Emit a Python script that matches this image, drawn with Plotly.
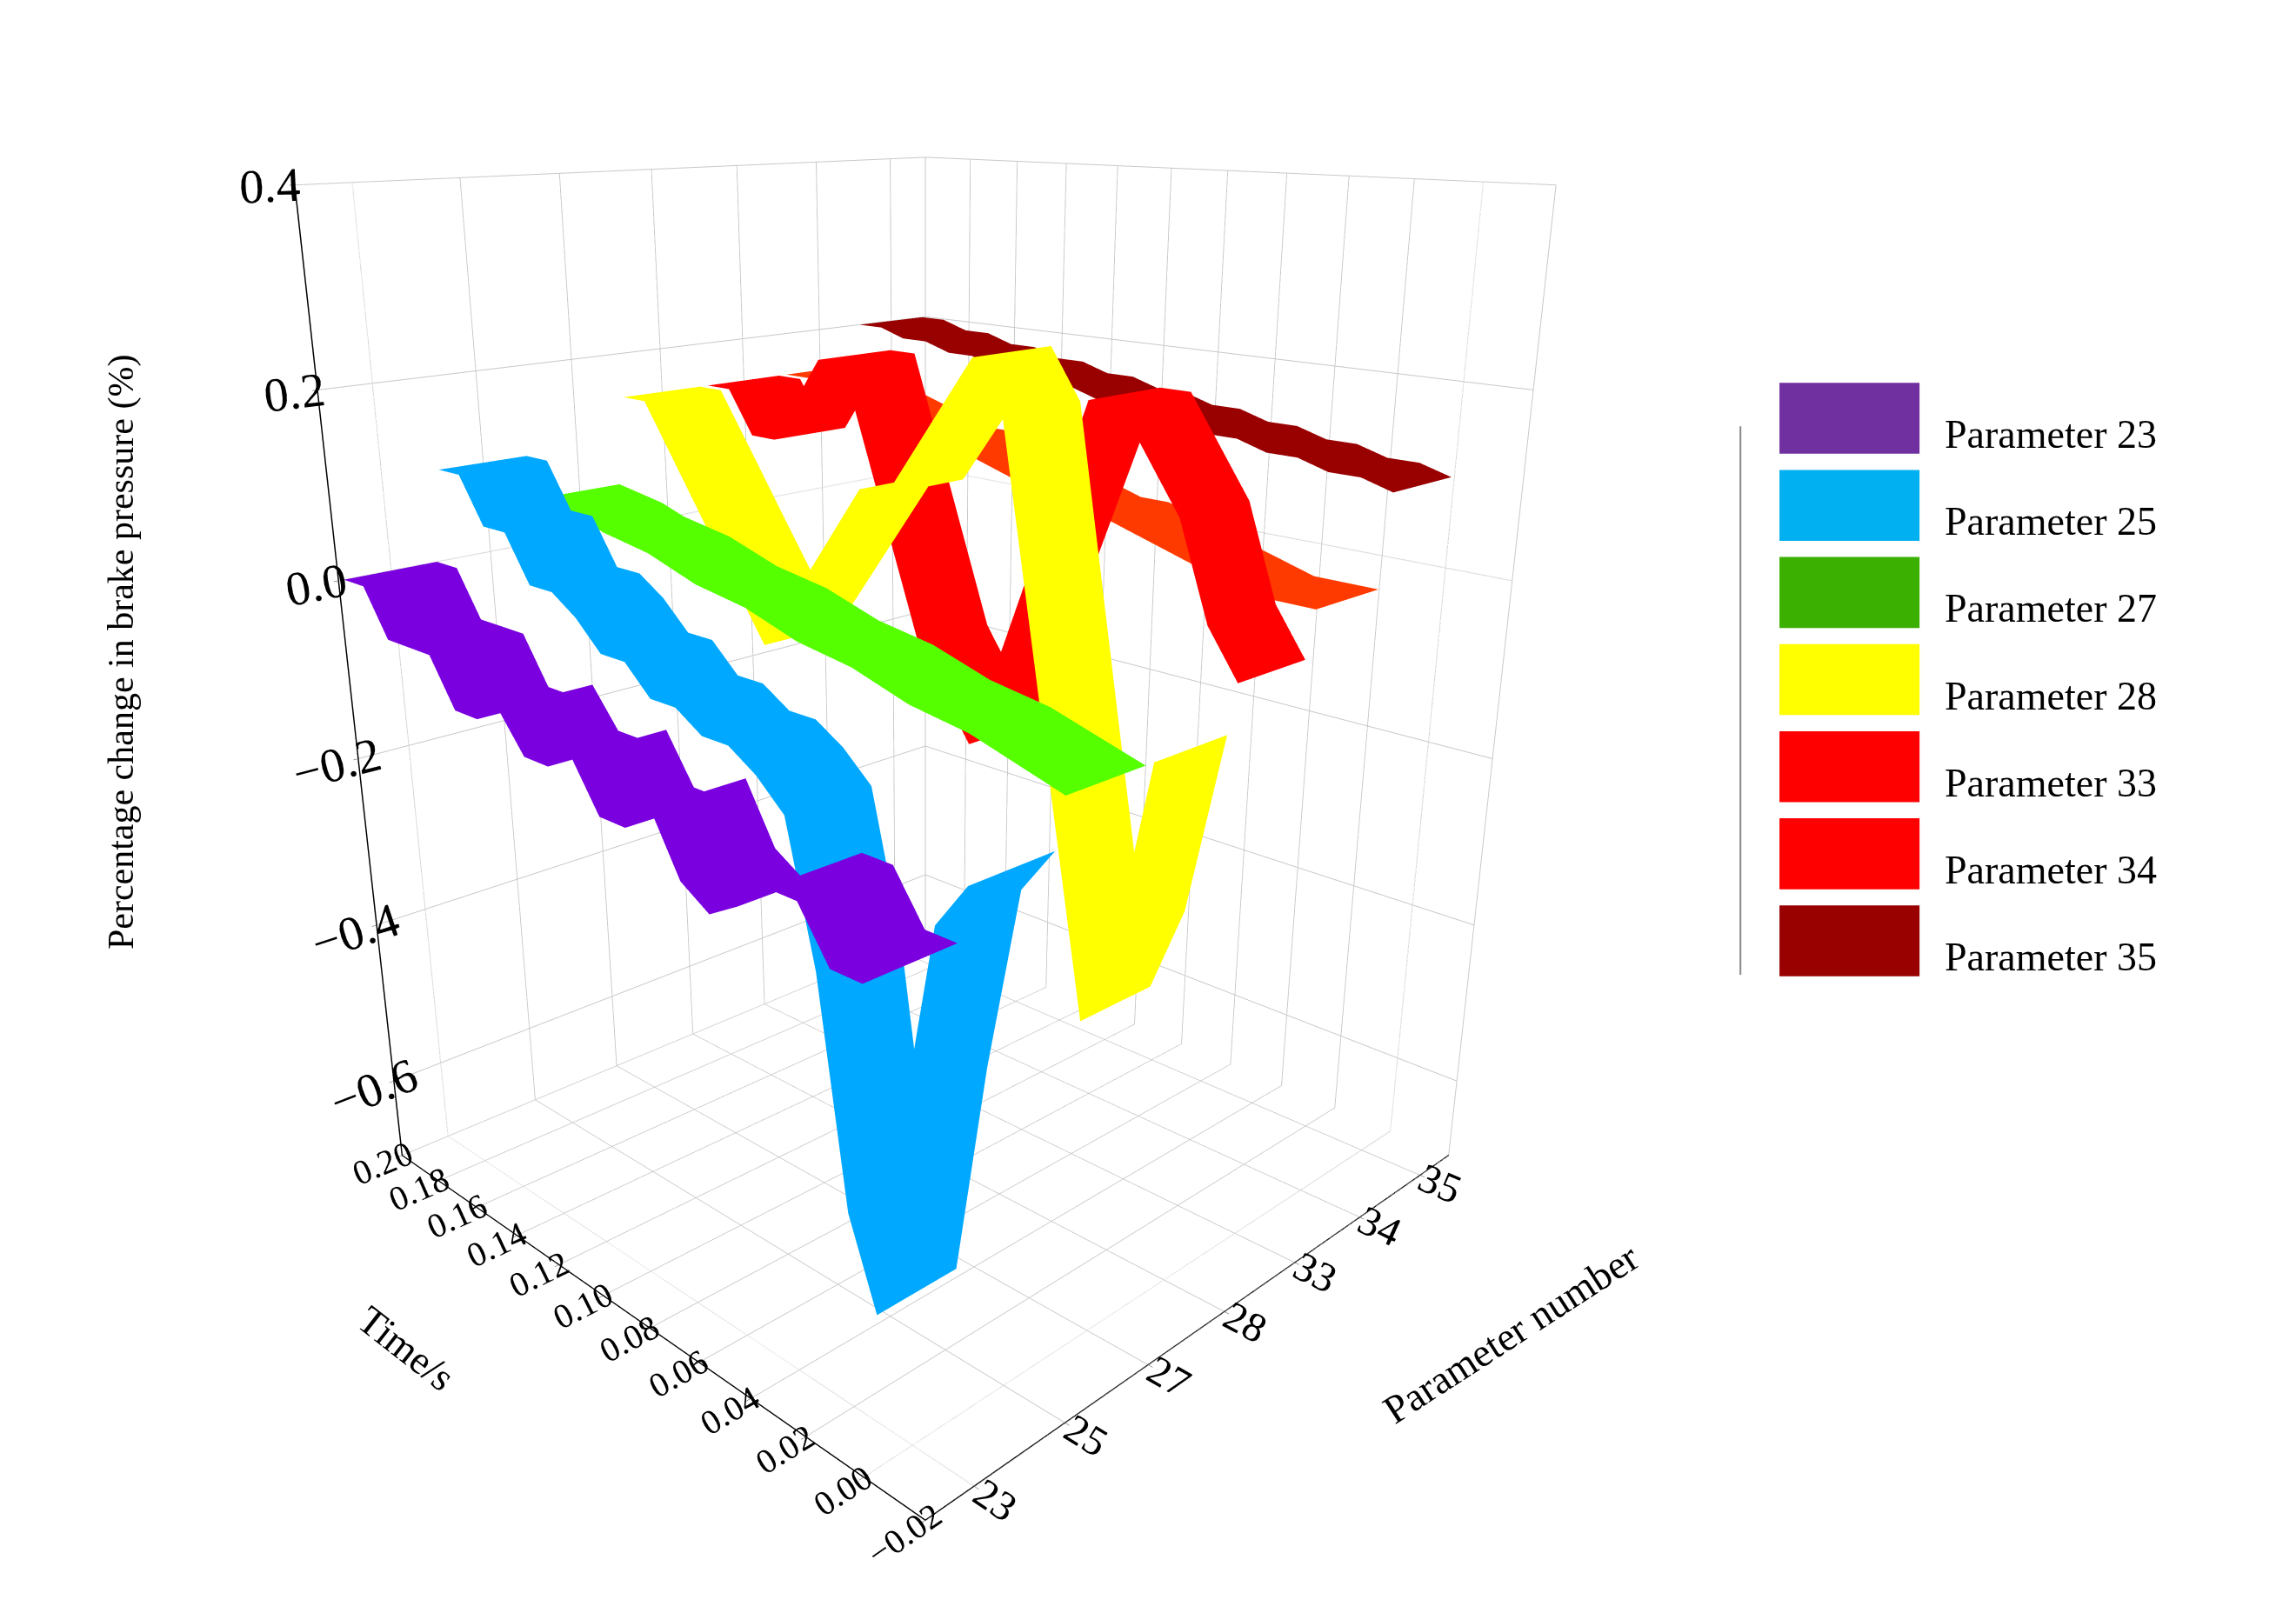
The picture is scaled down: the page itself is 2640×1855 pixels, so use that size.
import plotly.graph_objects as go
import numpy as np

params = ["23", "25", "27", "28", "33", "34", "35"]
names = ["Parameter " + p for p in params]
colors = ["#7a00e0", "#00a8ff", "#55ff00", "#ffff00", "#ff0000", "#ff3a00", "#990000"]
legend_colors = ["#7030a0", "#00b0f0", "#3cb000", "#ffff00", "#ff0000", "#ff0000", "#990000"]

# time values from 0.20 down to 0.00
times = [0.20, 0.19, 0.18, 0.17, 0.16, 0.15, 0.14, 0.13, 0.12, 0.11, 0.10,
         0.09, 0.08, 0.07, 0.06, 0.05, 0.04, 0.03, 0.02, 0.01, 0.00]
p23 = [0.0, 0.0, -0.05, -0.05, -0.05, -0.1, -0.1, -0.08, -0.12, -0.12, -0.1,
       -0.15, -0.15, -0.12, -0.18, -0.2, -0.18, -0.15, -0.15, -0.2, -0.2]
p25 = [0.1, 0.1, 0.05, 0.05, 0.0, 0.0, -0.02, -0.05, -0.05, -0.08, -0.08,
       -0.1, -0.1, -0.12, -0.15, -0.3, -0.55, -0.65, -0.4, -0.2, -0.15]
p27 = [0.05, 0.045, 0.04, 0.03, 0.025, 0.02, 0.01, 0.0, -0.005, -0.01, -0.02,
       -0.03, -0.035, -0.04, -0.05, -0.06, -0.065, -0.07, -0.08, -0.09, -0.1]
p28 = [0.15, 0.15, 0.1, 0.05, 0.0, -0.05, -0.1, -0.05, 0.0, 0.05, 0.1,
       0.1, 0.15, 0.2, 0.25, 0.2, 0.0, -0.2, -0.4, -0.3, -0.1]
p33 = [0.15, 0.15, 0.1, 0.1, 0.15, 0.2, 0.2, 0.1, 0.0, -0.1, -0.15,
       -0.2, -0.1, 0.0, 0.1, 0.2, 0.2, 0.15, 0.1, 0.0, -0.05]
p34 = [0.15, 0.15, 0.14, 0.13, 0.12, 0.11, 0.1, 0.1, 0.09, 0.08, 0.07,
       0.06, 0.05, 0.05, 0.04, 0.03, 0.02, 0.01, 0.0, 0.0, 0.0]
p35 = [0.2, 0.2, 0.19, 0.19, 0.18, 0.18, 0.17, 0.17, 0.16, 0.16, 0.15,
       0.15, 0.14, 0.14, 0.13, 0.13, 0.12, 0.12, 0.11, 0.11, 0.1]
series = [p23, p25, p27, p28, p33, p34, p35]

fig = go.Figure()
for i, (vals, c) in enumerate(zip(series, colors)):
    xs = [i - 0.45, i + 0.45]
    z = np.array([vals, vals]).T
    fig.add_trace(go.Surface(x=xs, y=times, z=z, colorscale=[[0, c], [1, c]],
                             showscale=False, showlegend=False, hoverinfo="skip",
                             lighting=dict(ambient=1, diffuse=0, specular=0)))

F = "Liberation Serif"
def ax(tsize, **kw):
    d = dict(showbackground=True, backgroundcolor="white", gridcolor="#c8c8c8",
             showline=True, linecolor="black", linewidth=3, ticks="outside",
             tickfont=dict(size=tsize, family=F, color="black"), title=dict(text=""))
    d.update(kw)
    return d

shapes, annots = [], []
y0 = 0.745
step = 0.054
for k, (n, c) in enumerate(zip(names, legend_colors)):
    yc = y0 - k * step
    shapes.append(dict(type="rect", xref="paper", yref="paper", x0=0.772, x1=0.833,
                       y0=yc - 0.022, y1=yc + 0.022, fillcolor=c, line=dict(width=0)))
    annots.append(dict(text=n, xref="paper", yref="paper", x=0.843, y=yc - 0.01,
                       xanchor="left", yanchor="middle", showarrow=False,
                       font=dict(size=46, family=F, color="black")))
shapes.append(dict(type="line", xref="paper", yref="paper", x0=0.755, x1=0.755,
                   y0=0.40, y1=0.74, line=dict(color="#888", width=2)))
annots.append(dict(text="Percentage change in brake pressure (%)", xref="paper", yref="paper",
                   x=0.04, y=0.6, textangle=-90, showarrow=False,
                   font=dict(size=42, family=F, color="black")))
annots.append(dict(text="Time/s", xref="paper", yref="paper", x=0.148, y=0.135, textangle=38,
                   showarrow=False, font=dict(size=46, family=F, color="black")))
annots.append(dict(text="Parameter number", xref="paper", yref="paper", x=0.655, y=0.115,
                   textangle=-33, showarrow=False, font=dict(size=46, family=F, color="black")))

fig.update_layout(
    width=2640, height=1855, paper_bgcolor="white", showlegend=False,
    font=dict(family=F, color="black"),
    shapes=shapes, annotations=annots,
    scene=dict(
        xaxis=ax(24, tickvals=list(range(7)), ticktext=params, range=[-0.5, 6.5]),
        yaxis=ax(22, tickvals=[round(-0.02 + 0.02 * k, 2) for k in range(12)],
                 tickformat=".2f", range=[-0.02, 0.2]),
        zaxis=ax(26, tickvals=[-0.6, -0.4, -0.2, 0.0, 0.2, 0.4],
                 tickformat=".1f", range=[-0.7, 0.4]),
        aspectmode="manual", aspectratio=dict(x=1, y=1, z=1.25),
        camera=dict(eye=dict(x=-1.62, y=-1.62, z=0.75), center=dict(x=0, y=0, z=-0.13)),
        domain=dict(x=[0.05, 0.75], y=[0, 1]),
    ),
    margin=dict(l=0, r=0, t=0, b=0),
)
fig.write_html("out.html")
